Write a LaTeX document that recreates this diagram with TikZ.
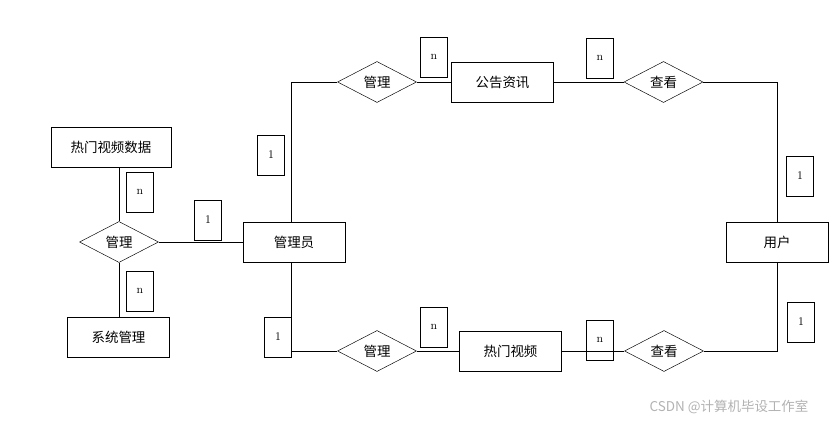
\documentclass[tikz,border=0pt]{standalone}
\usepackage{fontspec}
\newfontfamily\cjk{Noto Sans CJK SC}
\usetikzlibrary{positioning}
\usetikzlibrary{shapes.geometric}
\tikzset{
  semithick,
  entity/.style = {rectangle, draw, minimum width = 3.06cm, minimum height = 1.2cm,
   inner sep=0pt, font=\cjk\fontsize{11.5}{13}\selectfont},
  rel/.style = {diamond, draw, aspect=2, minimum width = 2.37cm, minimum height = 1.23cm,
   inner sep=0pt, font=\cjk\fontsize{11.5}{13}\selectfont},
  card/.style = {rectangle, draw, minimum width = 0.81cm, minimum height = 1.2cm,
   inner sep=0pt, font=\fontsize{10}{12}\selectfont},
}

\begin{document}
\begin{tikzpicture}[x=0.03cm,y=-0.03cm]
\useasboundingbox (0,0) rectangle (831,422);
% entities
\node at(111,147) (data) [entity, minimum width = 3.6cm] {热门视频数据};
\node at(118.5,337) (sys) [entity] {系统管理};
\node at(294,242) (admin) [entity] {管理员};
\node at(502.5,82) (news) [entity] {公告资讯};
\node at(510.5,351) (video) [entity] {热门视频};
\node at(777,242) (user) [entity] {用户};
% relations
\node at(119,242) (m1) [rel] {管理};
\node at(377,82) (m2) [rel] {管理};
\node at(377,351) (m3) [rel] {管理};
\node at(663.5,82) (v1) [rel] {查看};
\node at(664,351) (v2) [rel] {查看};
% corners
\coordinate (c1) at (291,82);
\coordinate (c2) at (291,351);
\coordinate (c3) at (777,82);
\coordinate (c4) at (777,351);
% links
\draw (data.south -| m1) -- (m1);
\draw (m1) -- (sys.north -| m1);
\draw (m1) -- (admin);
\draw (admin.north -| c1) -- (c1) -- (m2);
\draw (m2) -- (news);
\draw (news) -- (v1);
\draw (v1) -- (c3) -- (user);
\draw (admin.south -| c2) -- (c2) -- (m3);
\draw (m3) -- (video);
\draw (video) -- (v2);
\draw (v2) -- (c4) -- (user);
% cardinalities
\node at(140,192) (k1) [card] {n};
\node at(140,291) (k2) [card] {n};
\node at(208,220) (k3) [card] {1};
\node at(271,155) (k4) [card] {1};
\node at(434,57) (k5) [card] {n};
\node at(600,58) (k6) [card] {n};
\node at(800,176) (k7) [card] {1};
\node at(278,337) (k8) [card] {1};
\node at(434,327) (k9) [card] {n};
\node at(600,340) (k10) [card] {n};
\node at(801,322) (k11) [card] {1};
% watermark
\node at(729,407) (mark) [text=black!30, font=\cjk\fontsize{11.5}{13}\selectfont] {CSDN @计算机毕设工作室};
\end{tikzpicture}
\end{document}
